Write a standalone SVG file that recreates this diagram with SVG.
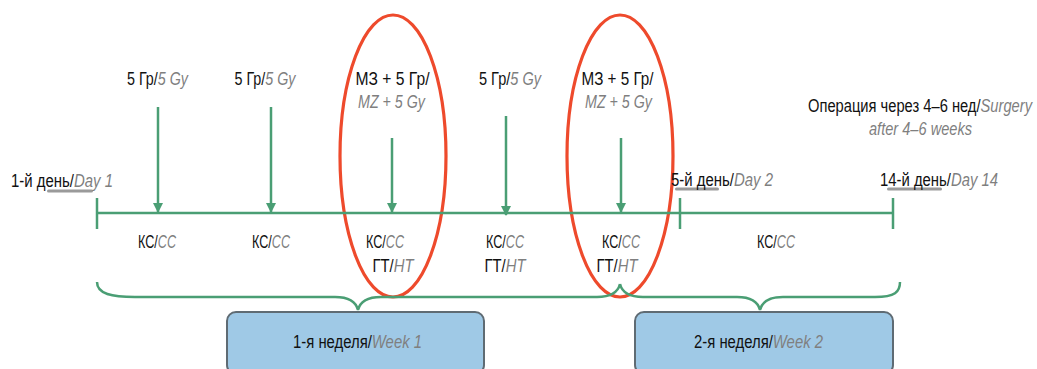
<svg xmlns="http://www.w3.org/2000/svg" width="1037" height="369" viewBox="0 0 1037 369">
<style>
text{font-family:"Liberation Sans",Arial,sans-serif;font-size:17.5px;fill:#111}
.m{text-anchor:middle}
.g{fill:#7f7f7f;font-style:italic}
.ln{stroke:#4a9e74;stroke-width:2.5;fill:none}
.red{stroke:#ee4a2c;stroke-width:3.2;fill:none}
.box{fill:#9fc9e6;stroke:#5f6b73;stroke-width:2}
.ul{fill:#9a9a9a}
</style>
<defs>
<marker id="ah" viewBox="0 0 10 10" refX="9" refY="5" markerWidth="4" markerHeight="4" orient="auto" markerUnits="strokeWidth">
<path d="M0,0 L10,5 L0,10 z" fill="#4a9e74"/>
</marker>
</defs>
<g id="ellipses">
<ellipse class="red" cx="393" cy="156" rx="53" ry="141"/>
<ellipse class="red" cx="620" cy="156" rx="53" ry="141"/>
</g>
<g id="connectors">
<line class="ln" x1="97" y1="213" x2="893" y2="213"/>
<line class="ln" x1="97" y1="198" x2="97" y2="229"/>
<line class="ln" x1="680" y1="198" x2="680" y2="229"/>
<line class="ln" x1="893" y1="198" x2="893" y2="229"/>
<line class="ln" x1="158" y1="107" x2="158" y2="212" marker-end="url(#ah)"/>
<line class="ln" x1="271" y1="107" x2="271" y2="212" marker-end="url(#ah)"/>
<line class="ln" x1="392" y1="138" x2="392" y2="212" marker-end="url(#ah)"/>
<line class="ln" x1="506" y1="116" x2="506" y2="215" marker-end="url(#ah)"/>
<line class="ln" x1="621" y1="138" x2="621" y2="212" marker-end="url(#ah)"/>
<path class="ln" d="M97,282 C97,294 112,297 135,297 L335,297 C350,297 356,302 358,310 C360,302 366,297 381,297 L597,297 C612,297 618,292 620,284"/>
<path class="ln" d="M620,284 C622,292 628,297 643,297 L737,297 C752,297 758,302 760,310 C762,302 768,297 783,297 L875,297 C895,297 900,292 900,282"/>
</g>
<g id="dose-labels">
<text class="m" x="157.5" y="85" textLength="61" lengthAdjust="spacingAndGlyphs">5 Гр/<tspan class="g">5 Gy</tspan></text>
<text class="m" x="265" y="85" textLength="61" lengthAdjust="spacingAndGlyphs">5 Гр/<tspan class="g">5 Gy</tspan></text>
<text class="m" x="392.5" y="85" textLength="74" lengthAdjust="spacingAndGlyphs">МЗ + 5 Гр/</text>
<text class="m g" x="391.5" y="108" textLength="67" lengthAdjust="spacingAndGlyphs">MZ + 5 Gy</text>
<text class="m" x="510" y="85" textLength="62" lengthAdjust="spacingAndGlyphs">5 Гр/<tspan class="g">5 Gy</tspan></text>
<text class="m" x="617.5" y="85" textLength="72" lengthAdjust="spacingAndGlyphs">МЗ + 5 Гр/</text>
<text class="m g" x="618.5" y="108" textLength="67" lengthAdjust="spacingAndGlyphs">MZ + 5 Gy</text>
<text class="m" x="920" y="112" textLength="224" lengthAdjust="spacingAndGlyphs">Операция через 4–6 нед/<tspan class="g">Surgery</tspan></text>
<text class="m g" x="920.5" y="135" textLength="103" lengthAdjust="spacingAndGlyphs">after 4–6 weeks</text>
</g>
<g id="day-labels">
<rect class="ul" x="47" y="189.5" width="46" height="3" rx="1.5"/>
<text x="11" y="187" textLength="102" lengthAdjust="spacingAndGlyphs">1-й день/<tspan class="g">Day 1</tspan></text>
<rect class="ul" x="675" y="187.5" width="44" height="3" rx="1.5"/>
<text x="671" y="186" textLength="102" lengthAdjust="spacingAndGlyphs">5-й день/<tspan class="g">Day 2</tspan></text>
<rect class="ul" x="887" y="187.5" width="55" height="3" rx="1.5"/>
<text x="880" y="186" textLength="118" lengthAdjust="spacingAndGlyphs">14-й день/<tspan class="g">Day 14</tspan></text>
</g>
<g id="treatment-labels">
<text class="m" x="157" y="248" textLength="38" lengthAdjust="spacingAndGlyphs">КС/<tspan class="g">CC</tspan></text>
<text class="m" x="271" y="248" textLength="38" lengthAdjust="spacingAndGlyphs">КС/<tspan class="g">CC</tspan></text>
<text class="m" x="385" y="248" textLength="38" lengthAdjust="spacingAndGlyphs">КС/<tspan class="g">CC</tspan></text>
<text class="m" x="393" y="272" textLength="41" lengthAdjust="spacingAndGlyphs">ГТ/<tspan class="g">HT</tspan></text>
<text class="m" x="505" y="248" textLength="38" lengthAdjust="spacingAndGlyphs">КС/<tspan class="g">CC</tspan></text>
<text class="m" x="505" y="272" textLength="41" lengthAdjust="spacingAndGlyphs">ГТ/<tspan class="g">HT</tspan></text>
<text class="m" x="621" y="248" textLength="38" lengthAdjust="spacingAndGlyphs">КС/<tspan class="g">CC</tspan></text>
<text class="m" x="617" y="272" textLength="41" lengthAdjust="spacingAndGlyphs">ГТ/<tspan class="g">HT</tspan></text>
<text class="m" x="776" y="248" textLength="38" lengthAdjust="spacingAndGlyphs">КС/<tspan class="g">CC</tspan></text>
</g>
<g id="week1">
<rect class="box" x="227" y="312" width="257" height="62" rx="9"/>
<text class="m" x="357.5" y="348" textLength="129" lengthAdjust="spacingAndGlyphs">1-я неделя/<tspan class="g">Week 1</tspan></text>
</g>
<g id="week2">
<rect class="box" x="635" y="312" width="258" height="62" rx="9"/>
<text class="m" x="758.5" y="348" textLength="129" lengthAdjust="spacingAndGlyphs">2-я неделя/<tspan class="g">Week 2</tspan></text>
</g>
</svg>
